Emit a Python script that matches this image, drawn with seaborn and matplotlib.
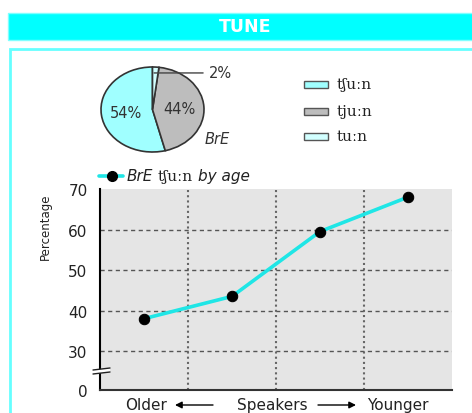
import seaborn as sns
import matplotlib.pyplot as plt
from matplotlib.lines import Line2D
from matplotlib.patches import Rectangle, Polygon

# pie: BrE pronunciation of "tune"
variants = ['tʃuːn', 'tjuːn', 'tuːn']
shares = [54, 44, 2]
variant_colors = ['#a0ffff', '#bdbdbd', '#d2ffff']

# line: BrE tʃuːn by age (older -> younger)
age_group = [1, 2, 3, 4]
tfun_pct = [38, 43.5, 59.5, 68]
y_floor = 20.4          # where the broken axis puts "0"
y_ticks = [y_floor, 30, 40, 50, 60, 70]
y_tick_labels = ['0', '30', '40', '50', '60', '70']

W, H = 472, 414


def fx(x):
    return x / W


def fy(y):
    return 1 - y / H


sns.set_style('white')
plt.rcParams['font.family'] = ['DejaVu Sans']

fig = plt.figure(figsize=(W / 100, H / 100), dpi=100)

# header bar and panel frame
fig.add_artist(Rectangle((fx(8), fy(41)), 1, 27 / H, transform=fig.transFigure,
                         facecolor='#00ffff', edgecolor='#80ffff', lw=1))
fig.text(fx(245), fy(27.5), 'TUNE', color='white', fontsize=12.5,
         fontweight='bold', ha='center', va='center')
fig.add_artist(Rectangle((fx(9.5), fy(460)), 1, 410 / H, transform=fig.transFigure,
                         facecolor='none', edgecolor='#66ffff', lw=2))

# pie
pax = fig.add_axes([fx(101), fy(153), 103 / W, 85 / H])
pax.pie(shares, colors=variant_colors, startangle=90,
        autopct=lambda p: f'{p:.0f}%' if p > 10 else '', pctdistance=0.52,
        wedgeprops=dict(edgecolor='#333333', linewidth=1.2),
        textprops=dict(fontsize=10.5, color='#333333'))
pax.set_xlim(-1, 1)
pax.set_ylim(-1, 1)
pax.set_aspect('auto')
pax.annotate('2%', xy=(0.03, 0.86), xytext=(1.1, 0.86), fontsize=10.5,
             color='#333333', ha='left', va='center',
             arrowprops=dict(arrowstyle='-', color='#444444', lw=1,
                             shrinkA=2, shrinkB=0))
pax.text(1.25, -0.69, 'BrE', fontsize=10.5, style='italic', color='#333333',
         ha='center', va='center')

# pie legend
for yy, lab, col in zip([85, 112, 137], variants, variant_colors):
    fig.add_artist(Rectangle((fx(304), fy(yy + 3.5)), 24 / W, 7 / H,
                             transform=fig.transFigure, facecolor=col,
                             edgecolor='#555555', lw=1))
    fig.text(fx(337), fy(yy), lab, fontsize=11, family=['DejaVu Serif'],
             color='#222222', ha='left', va='center')

# line chart
ax = fig.add_axes([fx(100), fy(391), 352 / W, 201 / H])
ax.set_facecolor('#e5e5e5')
for y in y_ticks[1:-1]:
    ax.axhline(y, color='#555555', ls=(0, (3, 2.5)), lw=1, zorder=1)
for x in [1.5, 2.5, 3.5]:
    ax.axvline(x, color='#666666', ls=(0, (1, 1.5)), lw=1.5, zorder=1)
sns.lineplot(x=age_group, y=tfun_pct, ax=ax, color='#1fe6e6', linewidth=2.6,
             marker='o', markersize=7.5, markerfacecolor='black',
             markeredgecolor='black', zorder=3)
ax.set_xlim(0.5, 4.5)
ax.set_ylim(y_floor, 70)
ax.set_yticks(y_ticks)
ax.set_yticklabels(y_tick_labels)
ax.set_xticks([])
ax.tick_params(axis='y', length=0, pad=9, labelsize=11, labelcolor='#222222')
for s in ['top', 'right']:
    ax.spines[s].set_visible(False)
ax.spines['left'].set_color('black')
ax.spines['left'].set_linewidth(1.5)
ax.spines['bottom'].set_color('#333333')
ax.spines['bottom'].set_linewidth(1.5)
ax.set_xlabel('')
ax.set_ylabel('')

fig.text(fx(45), fy(227), 'Percentage', rotation=90, fontsize=8.5,
         color='#222222', ha='center', va='center')

# axis break mark
fig.add_artist(Polygon([(fx(93), fy(371)), (fx(110), fy(369)),
                        (fx(110), fy(373)), (fx(93), fy(375))],
                       closed=True, transform=fig.transFigure,
                       facecolor='white', edgecolor='none', zorder=5))
for y0 in [371, 375]:
    fig.add_artist(Line2D([fx(93), fx(110)], [fy(y0), fy(y0 - 2)],
                          transform=fig.transFigure, color='#222222', lw=1,
                          zorder=6))

# line legend
fig.add_artist(Line2D([fx(99), fx(123)], [fy(177), fy(177)],
                      transform=fig.transFigure, color='#1fe6e6', lw=2.6))
fig.add_artist(Line2D([fx(112)], [fy(177)], transform=fig.transFigure,
                      marker='o', markersize=7, color='black', lw=0))
fig.text(fx(127), fy(177), 'BrE', fontsize=11, style='italic',
         color='#222222', ha='left', va='center')
fig.text(fx(158), fy(177), 'tʃuːn', fontsize=11, family=['DejaVu Serif'],
         color='#222222', ha='left', va='center')
fig.text(fx(198), fy(177), 'by age', fontsize=11, style='italic',
         color='#222222', ha='left', va='center')

# x-axis caption with arrows
fig.text(fx(167), fy(406), 'Older', fontsize=11, color='#222222',
         ha='right', va='center')
fig.text(fx(272), fy(406), 'Speakers', fontsize=11, color='#222222',
         ha='center', va='center')
fig.text(fx(367), fy(406), 'Younger', fontsize=11, color='#222222',
         ha='left', va='center')
arrow = dict(arrowstyle='-|>', color='black', lw=1, mutation_scale=10,
             shrinkA=0, shrinkB=0)
fig.add_artist(plt.Annotation('', xy=(fx(175), fy(406)),
                              xytext=(fx(213), fy(406)),
                              xycoords='figure fraction',
                              textcoords='figure fraction', arrowprops=arrow))
fig.add_artist(plt.Annotation('', xy=(fx(356), fy(406)),
                              xytext=(fx(318), fy(406)),
                              xycoords='figure fraction',
                              textcoords='figure fraction', arrowprops=arrow))

fig.savefig('out.png', dpi=100)
